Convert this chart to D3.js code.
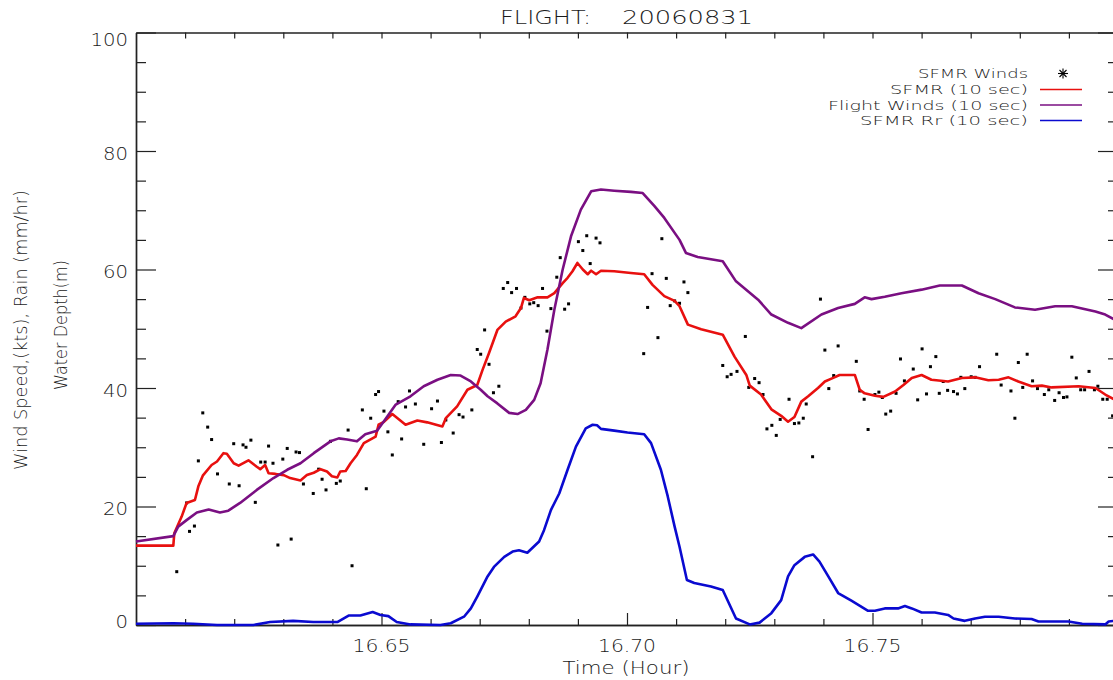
<!DOCTYPE html>
<html><head><meta charset="utf-8">
<script src="https://cdn.jsdelivr.net/npm/d3@7"></script>
<style>
body{margin:0;background:#fff}
svg{display:block}
text{font-family:"DejaVu Sans",sans-serif;font-weight:200;fill:#1a1a1a}
</style>
</head><body>
<svg id="c" width="1113" height="680"></svg>
<script>
const titleParts = ["FLIGHT:", "20060831"];
const xLabel = "Time (Hour)";
const yLabelLines = ["Wind Speed,(kts), Rain (mm/hr)", "Water Depth(m)"];
const xTicks = [16.65, 16.70, 16.75];
const xTickLabels = ["16.65", "16.70", "16.75"];
const xMinor = [16.61,16.62,16.63,16.64,16.66,16.67,16.68,16.69,16.71,16.72,16.73,16.74,16.76,16.77,16.78,16.79];
const yTicks = [0, 20, 40, 60, 80, 100];
const yTickLabels = ["0", "20", "40", "60", "80", "100"];
const yMinor = [5,10,15,25,30,35,45,50,55,65,70,75,85,90,95];
const legendLabels = ["SFMR Winds", "SFMR (10 sec)", "Flight Winds (10 sec)", "SFMR Rr (10 sec)"];

const sfmrWinds = [[16.6083,9.0],[16.6103,20.6],[16.6109,15.8],[16.6119,16.7],[16.6127,27.7],[16.6136,35.8],[16.6146,33.4],[16.6154,31.3],[16.6166,25.5],[16.6190,23.8],[16.6199,30.6],[16.6210,23.5],[16.6218,30.4],[16.6224,30.0],[16.6234,31.2],[16.6243,20.7],[16.6254,27.5],[16.6263,27.5],[16.6270,30.2],[16.6279,27.3],[16.6289,13.5],[16.6299,28.0],[16.6308,29.8],[16.6316,14.5],[16.6326,29.2],[16.6333,29.1],[16.6341,23.8],[16.6361,22.2],[16.6372,26.3],[16.6379,24.6],[16.6387,22.8],[16.6396,31.0],[16.6408,23.9],[16.6416,24.3],[16.6432,32.9],[16.6440,10.0],[16.6461,36.3],[16.6469,23.0],[16.6478,34.9],[16.6488,38.9],[16.6494,39.4],[16.6505,36.1],[16.6513,32.6],[16.6522,28.7],[16.6534,37.7],[16.6541,31.4],[16.6549,36.8],[16.6557,39.5],[16.6569,37.3],[16.6586,30.5],[16.6602,36.5],[16.6614,37.8],[16.6622,30.8],[16.6631,34.6],[16.6646,32.4],[16.6658,35.5],[16.6666,35.1],[16.6684,36.3],[16.6695,46.5],[16.6702,45.7],[16.6710,49.8],[16.6719,44.0],[16.6728,39.2],[16.6739,40.3],[16.6748,56.8],[16.6757,57.8],[16.6765,56.1],[16.6775,56.8],[16.6784,53.5],[16.6792,55.3],[16.6802,54.2],[16.6810,54.4],[16.6819,53.9],[16.6828,56.8],[16.6837,49.6],[16.6845,53.4],[16.6857,58.7],[16.6864,62.0],[16.6873,53.3],[16.6881,54.2],[16.6901,64.7],[16.6910,63.2],[16.6918,65.7],[16.6925,61.0],[16.6937,65.3],[16.6945,64.5],[16.7034,45.8],[16.7042,53.6],[16.7051,59.3],[16.7063,48.5],[16.7071,65.2],[16.7080,58.5],[16.7088,53.9],[16.7097,54.7],[16.7107,54.3],[16.7116,57.9],[16.7124,56.1],[16.7195,43.8],[16.7204,41.9],[16.7212,42.3],[16.7224,42.8],[16.7241,48.7],[16.7248,40.1],[16.7260,41.6],[16.7269,40.9],[16.7277,38.9],[16.7285,33.1],[16.7295,33.7],[16.7304,32.0],[16.7312,34.7],[16.7330,38.1],[16.7341,34.0],[16.7350,34.1],[16.7359,34.9],[16.7365,37.3],[16.7378,28.4],[16.7394,55.0],[16.7403,46.4],[16.7411,39.9],[16.7421,42.1],[16.7430,47.1],[16.7467,44.5],[16.7474,39.5],[16.7483,38.1],[16.7491,33.0],[16.7505,38.9],[16.7513,39.3],[16.7520,38.4],[16.7527,35.6],[16.7537,36.1],[16.7548,39.1],[16.7557,44.9],[16.7565,41.2],[16.7583,43.2],[16.7592,38.0],[16.7601,46.6],[16.7610,39.0],[16.7618,43.6],[16.7629,45.3],[16.7636,39.1],[16.7644,41.1],[16.7653,39.6],[16.7665,39.4],[16.7673,39.0],[16.7680,41.8],[16.7688,39.9],[16.7701,41.9],[16.7709,41.8],[16.7718,43.6],[16.7753,45.7],[16.7762,40.5],[16.7782,39.5],[16.7790,34.9],[16.7797,44.3],[16.7806,40.1],[16.7815,45.7],[16.7826,41.2],[16.7836,39.9],[16.7850,38.9],[16.7859,39.7],[16.7871,37.9],[16.7880,39.2],[16.7889,38.4],[16.7896,38.5],[16.7906,45.2],[16.7915,41.7],[16.7924,39.7],[16.7932,39.7],[16.7941,42.8],[16.7952,39.7],[16.7959,40.3],[16.7969,38.1],[16.7978,38.1],[16.7989,35.3]];

const sfmr10 = [[16.6000,13.4],[16.6076,13.4],[16.6078,15.5],[16.6093,18.3],[16.6103,20.6],[16.6120,21.1],[16.6127,23.4],[16.6136,25.2],[16.6154,27.0],[16.6165,27.6],[16.6178,29.0],[16.6185,28.9],[16.6199,27.3],[16.6209,26.9],[16.6229,27.8],[16.6246,26.7],[16.6253,26.3],[16.6263,27.0],[16.6270,25.6],[16.6284,25.5],[16.6301,25.3],[16.6314,24.8],[16.6335,24.4],[16.6348,25.3],[16.6362,25.7],[16.6376,26.3],[16.6389,25.9],[16.6399,25.1],[16.6410,24.9],[16.6416,25.9],[16.6427,26.0],[16.6437,27.3],[16.6450,28.7],[16.6464,30.7],[16.6488,31.8],[16.6494,33.8],[16.6505,34.3],[16.6522,35.6],[16.6549,33.8],[16.6573,34.5],[16.6593,34.2],[16.6624,33.5],[16.6631,34.9],[16.6654,36.9],[16.6675,39.7],[16.6695,40.5],[16.6706,43.1],[16.6719,45.9],[16.6736,49.8],[16.6753,51.2],[16.6773,52.1],[16.6784,53.5],[16.6790,55.2],[16.6801,54.8],[16.6818,55.3],[16.6838,55.3],[16.6852,56.0],[16.6869,57.7],[16.6879,58.6],[16.6889,59.7],[16.6899,61.1],[16.6910,60.0],[16.6920,59.2],[16.6927,59.8],[16.6937,59.2],[16.6947,59.8],[16.6974,59.7],[16.7008,59.4],[16.7035,59.2],[16.7052,57.4],[16.7076,55.5],[16.7097,54.7],[16.7107,53.8],[16.7124,50.7],[16.7151,49.9],[16.7195,49.0],[16.7219,45.3],[16.7243,42.2],[16.7250,40.4],[16.7273,38.9],[16.7294,36.4],[16.7314,35.3],[16.7328,34.3],[16.7341,35.1],[16.7355,37.7],[16.7369,38.6],[16.7389,40.0],[16.7403,41.1],[16.7420,41.7],[16.7433,42.2],[16.7464,42.2],[16.7474,39.7],[16.7484,39.1],[16.7505,38.7],[16.7522,38.5],[16.7546,39.4],[16.7563,40.5],[16.7580,41.7],[16.7600,42.2],[16.7620,41.4],[16.7654,41.1],[16.7682,41.7],[16.7709,41.8],[16.7736,41.3],[16.7757,41.4],[16.7777,41.8],[16.7797,41.1],[16.7824,40.3],[16.7845,40.4],[16.7865,40.1],[16.7920,40.3],[16.7954,40.0],[16.7974,38.9],[16.7994,38.0]];

const flight10 = [[16.6000,14.1],[16.6076,15.0],[16.6086,16.6],[16.6103,17.7],[16.6124,19.0],[16.6148,19.5],[16.6171,19.0],[16.6188,19.3],[16.6212,20.6],[16.6246,22.8],[16.6280,24.8],[16.6308,26.2],[16.6335,27.3],[16.6362,29.0],[16.6396,31.0],[16.6413,31.5],[16.6430,31.3],[16.6450,31.0],[16.6467,32.2],[16.6491,32.8],[16.6506,34.5],[16.6529,37.2],[16.6559,38.6],[16.6586,40.3],[16.6614,41.4],[16.6641,42.2],[16.6661,42.1],[16.6682,41.1],[16.6702,39.7],[16.6716,38.6],[16.6736,37.4],[16.6760,35.8],[16.6777,35.6],[16.6794,36.3],[16.6811,38.0],[16.6824,40.8],[16.6838,46.5],[16.6852,53.2],[16.6869,60.0],[16.6886,65.6],[16.6906,70.1],[16.6927,73.2],[16.6947,73.5],[16.6974,73.3],[16.7008,73.1],[16.7032,72.9],[16.7056,70.7],[16.7076,68.7],[16.7107,65.0],[16.7120,62.8],[16.7144,62.1],[16.7195,61.4],[16.7222,58.0],[16.7267,54.9],[16.7294,52.4],[16.7328,51.0],[16.7355,50.1],[16.7396,52.4],[16.7430,53.5],[16.7464,54.2],[16.7484,55.3],[16.7498,55.0],[16.7525,55.4],[16.7559,56.0],[16.7600,56.6],[16.7637,57.3],[16.7682,57.3],[16.7716,56.0],[16.7750,55.0],[16.7790,53.6],[16.7831,53.2],[16.7872,53.8],[16.7906,53.8],[16.7954,52.9],[16.7974,52.4],[16.7994,51.5]];

const rain10 = [[16.6000,0.2],[16.6076,0.3],[16.6116,0.2],[16.6165,0.0],[16.6239,0.0],[16.6273,0.5],[16.6320,0.7],[16.6361,0.5],[16.6410,0.5],[16.6433,1.6],[16.6457,1.6],[16.6482,2.2],[16.6498,1.7],[16.6514,1.5],[16.6531,0.5],[16.6559,0.1],[16.6620,0.0],[16.6641,0.3],[16.6668,1.4],[16.6682,2.8],[16.6695,4.8],[16.6716,8.2],[16.6729,9.8],[16.6750,11.5],[16.6767,12.4],[16.6780,12.6],[16.6797,12.2],[16.6821,14.1],[16.6831,16.0],[16.6845,19.4],[16.6862,22.2],[16.6879,26.2],[16.6896,30.1],[16.6916,33.2],[16.6930,33.8],[16.6939,33.7],[16.6947,33.1],[16.6974,32.8],[16.7001,32.5],[16.7035,32.2],[16.7049,30.7],[16.7069,26.2],[16.7083,21.7],[16.7097,16.6],[16.7107,13.2],[16.7122,7.6],[16.7137,7.1],[16.7171,6.5],[16.7195,5.9],[16.7222,1.1],[16.7250,0.1],[16.7270,0.4],[16.7294,2.0],[16.7314,4.2],[16.7328,8.2],[16.7341,10.1],[16.7362,11.5],[16.7379,11.9],[16.7392,10.7],[16.7410,8.2],[16.7430,5.4],[16.7457,4.1],[16.7491,2.4],[16.7505,2.4],[16.7525,2.8],[16.7552,2.8],[16.7566,3.2],[16.7580,2.8],[16.7600,2.1],[16.7627,2.1],[16.7654,1.7],[16.7665,1.1],[16.7688,0.7],[16.7709,1.1],[16.7729,1.4],[16.7757,1.4],[16.7790,1.1],[16.7824,1.0],[16.7838,0.6],[16.7899,0.6],[16.7927,0.2],[16.7974,0.1],[16.7981,0.6],[16.7994,0.7]];

const colors = {red: "#e8100f", purple: "#7a0f82", blue: "#0a0ad0", ink: "#222"};

const svg = d3.select("#c");
const L = 136, R = 1118, T = 32.5, B = 625;
const x = d3.scaleLinear().domain([16.6, 16.8]).range([L, R]);
const y = d3.scaleLinear().domain([0, 100]).range([B, T]);

function axisG(gen, tx, ty) {
  const g = svg.append("g").attr("transform", `translate(${tx},${ty})`).call(gen);
  g.selectAll("text").remove();
  g.select(".domain").attr("stroke", colors.ink).attr("stroke-width", 1.4);
  g.selectAll(".tick line").attr("stroke", colors.ink).attr("stroke-width", 1.2);
  return g;
}
axisG(d3.axisBottom(x).tickValues(xTicks).tickSizeInner(-12).tickSizeOuter(0), 0, B);
axisG(d3.axisBottom(x).tickValues(xMinor).tickSizeInner(-6).tickSizeOuter(0), 0, B);
axisG(d3.axisTop(x).tickValues(xTicks.concat(xMinor)).tickSizeInner(-6).tickSizeOuter(0), 0, T);
axisG(d3.axisLeft(y).tickValues(yTicks).tickSizeInner(-20).tickSizeOuter(0), L, 0);
axisG(d3.axisLeft(y).tickValues(yMinor).tickSizeInner(-10).tickSizeOuter(0), L, 0);
axisG(d3.axisRight(y).tickValues(yTicks).tickSizeInner(-20).tickSizeOuter(0), R, 0);
axisG(d3.axisRight(y).tickValues(yMinor).tickSizeInner(-10).tickSizeOuter(0), R, 0);

svg.append("g").selectAll("text").data(xTicks).join("text")
  .attr("x", d => x(d)).attr("y", 652).attr("text-anchor", "middle")
  .attr("font-size", 18).attr("textLength", 58).attr("lengthAdjust", "spacingAndGlyphs")
  .text((d, i) => xTickLabels[i]);
svg.append("g").selectAll("text").data(yTicks).join("text")
  .attr("x", 128)
  .attr("y", d => Math.min(Math.max(y(d) + 2, T + 6.5), B - 4) + 6.6)
  .attr("text-anchor", "end").attr("font-size", 18)
  .attr("textLength", (d, i) => yTickLabels[i].length * 12.5).attr("lengthAdjust", "spacingAndGlyphs")
  .text((d, i) => yTickLabels[i]);

svg.append("text").attr("x", 500).attr("y", 24).attr("font-size", 20)
  .attr("textLength", 91).attr("lengthAdjust", "spacingAndGlyphs").text(titleParts[0]);
svg.append("text").attr("x", 622).attr("y", 24).attr("font-size", 20)
  .attr("textLength", 131).attr("lengthAdjust", "spacingAndGlyphs").text(titleParts[1]);
svg.append("text").attr("x", 626).attr("y", 674).attr("text-anchor", "middle").attr("font-size", 18)
  .attr("textLength", 127).attr("lengthAdjust", "spacingAndGlyphs").text(xLabel);
svg.append("text").attr("transform", "translate(27,330) rotate(-90)").attr("text-anchor", "middle")
  .attr("font-size", 17).attr("textLength", 280).attr("lengthAdjust", "spacingAndGlyphs").text(yLabelLines[0]);
svg.append("text").attr("transform", "translate(67,325) rotate(-90)").attr("text-anchor", "middle")
  .attr("font-size", 17).attr("textLength", 130).attr("lengthAdjust", "spacingAndGlyphs").text(yLabelLines[1]);

svg.append("g").selectAll("rect").data(sfmrWinds).join("rect")
  .attr("x", d => x(d[0]) - 1.5).attr("y", d => y(d[1]) - 1.5)
  .attr("width", 3).attr("height", 3).attr("fill", "#000");

const line = d3.line().x(d => x(d[0])).y(d => y(d[1]));
[[sfmr10, colors.red], [flight10, colors.purple], [rain10, colors.blue]].forEach(([data, c]) => {
  svg.append("path").datum(data).attr("d", line).attr("fill", "none")
    .attr("stroke", c).attr("stroke-width", 2.6).attr("stroke-linejoin", "round");
});

const legY = [78, 94, 109.5, 125];
const legW = [110, 138, 200, 168];
const leg = svg.append("g");
leg.selectAll("text").data(legendLabels).join("text")
  .attr("x", 1028).attr("y", (d, i) => legY[i]).attr("text-anchor", "end").attr("font-size", 13)
  .attr("textLength", (d, i) => legW[i]).attr("lengthAdjust", "spacingAndGlyphs").text(d => d);
const legColors = [null, colors.red, colors.purple, colors.blue];
legColors.forEach((c, i) => {
  if (!c) return;
  leg.append("line").attr("x1", 1040).attr("x2", 1082)
    .attr("y1", legY[i] - 4.5).attr("y2", legY[i] - 4.5)
    .attr("stroke", c).attr("stroke-width", 1.5);
});
const ax = 1063, ay = legY[0] - 4.5, r = 5;
[[0, r], [r, 0], [r * 0.7, r * 0.7], [r * 0.7, -r * 0.7]].forEach(([dx, dy]) => {
  leg.append("line").attr("x1", ax - dx).attr("y1", ay - dy).attr("x2", ax + dx).attr("y2", ay + dy)
    .attr("stroke", "#000").attr("stroke-width", 1.1);
});
</script>
</body></html>
